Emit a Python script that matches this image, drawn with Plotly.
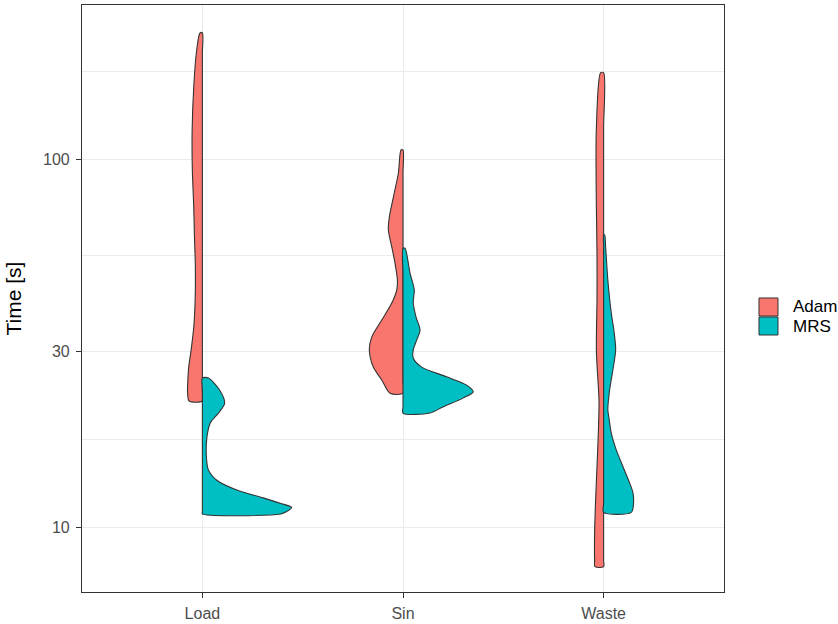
import plotly.graph_objects as go

# ---- data ----
categories = ["Load", "Sin", "Waste"]
groups = ["Adam", "MRS"]
colors = ["#F8766D", "#00BFC4"]

# violin outlines: time [s] (top -> bottom) and half-width (category units)
load_adam_time = [220, 194.1, 156.9, 119.9, 93.3, 74.1, 62.9, 50.9, 41.4, 34.9, 30.3, 27.2, 24.6, 23.3, 22.0]
load_adam_width = [0.012, 0.030, 0.043, 0.051, 0.050, 0.043, 0.040, 0.035, 0.036, 0.043, 0.056, 0.068, 0.073, 0.074, 0.066]

load_mrs_time = [25.4, 23.6, 21.7, 20.4, 19.2, 17.6, 15.5, 14.3, 13.4, 12.6, 12.0, 11.6, 11.3, 11.0, 10.85]
load_mrs_width = [0.030, 0.085, 0.111, 0.080, 0.040, 0.023, 0.020, 0.030, 0.072, 0.172, 0.303, 0.388, 0.445, 0.418, 0.39]

sin_adam_time = [105.8, 91.6, 78.8, 69.6, 64.1, 57.7, 52.2, 46.9, 44.1, 40.6, 36.5, 32.8, 30.3, 27.2, 25.1, 23.1]
sin_adam_width = [0.010, 0.023, 0.048, 0.068, 0.073, 0.056, 0.040, 0.028, 0.031, 0.056, 0.106, 0.156, 0.168, 0.148, 0.106, 0.065]

sin_mrs_time = [57.2, 49.0, 44.1, 40.6, 37.2, 34.3, 32.2, 30.3, 28.8, 27.2, 25.6, 24.3, 23.3, 22.4, 21.2, 20.4]
sin_mrs_width = [0.010, 0.035, 0.056, 0.051, 0.065, 0.085, 0.068, 0.051, 0.051, 0.093, 0.217, 0.317, 0.350, 0.299, 0.199, 0.134]

waste_adam_time = [171.6, 122.2, 99.4, 72.7, 55.5, 41.4, 29.9, 22.1, 18.3, 14.6, 11.8, 9.63, 8.13, 7.80]
waste_adam_width = [0.015, 0.036, 0.038, 0.036, 0.033, 0.033, 0.036, 0.023, 0.026, 0.033, 0.040, 0.045, 0.045, 0.043]

waste_mrs_time = [62.2, 57.7, 46.9, 38.2, 34.3, 30.3, 26.7, 23.6, 20.8, 19.9, 18.0, 16.2, 14.6, 13.2, 12.4, 11.6, 10.96]
waste_mrs_width = [0.005, 0.010, 0.021, 0.038, 0.051, 0.060, 0.046, 0.030, 0.021, 0.026, 0.038, 0.063, 0.096, 0.129, 0.146, 0.149, 0.138]

y_ticks = [10, 30, 100]
y_minor = [17.32, 54.77, 173.2]

series = [
    ("Load", "Adam", load_adam_time, load_adam_width),
    ("Load", "MRS", load_mrs_time, load_mrs_width),
    ("Sin", "Adam", sin_adam_time, sin_adam_width),
    ("Sin", "MRS", sin_mrs_time, sin_mrs_width),
    ("Waste", "Adam", waste_adam_time, waste_adam_width),
    ("Waste", "MRS", waste_mrs_time, waste_mrs_width),
]

fig = go.Figure()
for cat, grp, times, widths in series:
    c = categories.index(cat) + 1
    sign = -1 if grp == "Adam" else 1
    xs = [c + sign * w for w in widths] + [c for _ in times[::-1]] + [c + sign * widths[0]]
    ys = list(times) + list(times[::-1]) + [times[0]]
    col = colors[groups.index(grp)]
    fig.add_trace(go.Scatter(
        x=xs, y=ys, mode="lines", fill="toself", fillcolor=col,
        line=dict(color="#333333", width=1.1, shape="spline", smoothing=0.8),
        name=grp, showlegend=False, hoverinfo="skip",
    ))

font_family = "Liberation Sans, Arial, sans-serif"

# legend drawn as keys + labels to the right of the panel
key_x0, key_x1 = 1.0545, 1.0841
key_tops = [0.5009, 0.4685]
key_h = 0.0307
for i, grp in enumerate(groups):
    fig.add_shape(type="rect", xref="paper", yref="paper",
                  x0=key_x0, x1=key_x1, y0=key_tops[i] - key_h, y1=key_tops[i],
                  fillcolor=colors[i], line=dict(color="#333333", width=1))
    fig.add_annotation(xref="paper", yref="paper", x=1.1044, y=key_tops[i] - key_h / 2,
                       xanchor="left", yanchor="middle", text=grp, showarrow=False,
                       font=dict(family=font_family, size=17, color="#000000"))

fig.update_layout(
    width=838, height=624,
    margin=dict(l=82, r=114, t=5, b=32),
    paper_bgcolor="white", plot_bgcolor="white",
    font=dict(family=font_family, size=17, color="#000000"),
    showlegend=False,
    xaxis=dict(
        range=[0.4, 3.6], tickmode="array", tickvals=[1, 2, 3], ticktext=categories,
        showgrid=True, gridcolor="#ebebeb", gridwidth=1.2, zeroline=False,
        ticks="outside", ticklen=5, tickcolor="#333333", tickwidth=1,
        ticklabelstandoff=2,
        tickfont=dict(size=16, color="#4d4d4d"), automargin=False,
        showline=True, mirror=True, linecolor="#333333", linewidth=1.2,
    ),
    yaxis=dict(
        type="log", range=[0.8234, 2.4185],
        tickmode="array", tickvals=y_ticks, ticktext=[str(v) for v in y_ticks],
        showgrid=True, gridcolor="#ebebeb", gridwidth=1.2, zeroline=False,
        minor=dict(tickmode="array", tickvals=y_minor, showgrid=True,
                   gridcolor="#ebebeb", gridwidth=0.6, ticks=""),
        ticks="outside", ticklen=5, tickcolor="#333333", tickwidth=1,
        ticklabelstandoff=3,
        tickfont=dict(size=16, color="#4d4d4d"), automargin=False,
        showline=True, mirror=True, linecolor="#333333", linewidth=1.2,
        title=dict(text="Time [s]", font=dict(size=21, color="#000000")),
    ),
)

fig.write_html("out.html", config={"displayModeBar": False},
               post_script="document.body.style.margin='0';")
